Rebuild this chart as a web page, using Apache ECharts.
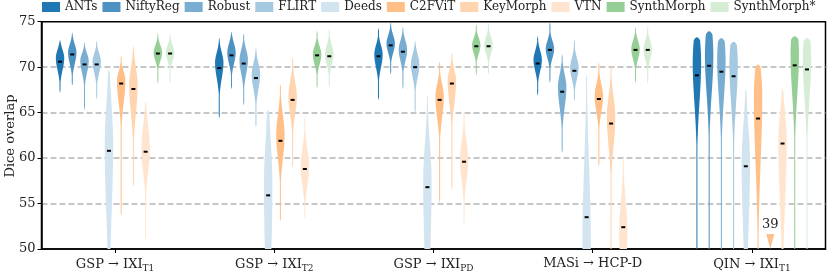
<!DOCTYPE html>
<html><head><meta charset="utf-8">
<script src="https://cdn.jsdelivr.net/npm/echarts@6/dist/echarts.min.js"></script>
<style>html,body{margin:0;padding:0;background:#fff}#c{width:830px;height:273px}</style>
</head><body><div id="c"></div>
<script>
// ---------- data ----------
const methods = ['ANTs','NiftyReg','Robust','FLIRT','Deeds','C2FViT','KeyMorph','VTN','SynthMorph','SynthMorph*'];
const groupMain = ['GSP → IXI','GSP → IXI','GSP → IXI','MASi → HCP-D','QIN → IXI'];
const groupSub  = ['T1','T2','PD','','T1'];
const yTicks = [50,55,60,65,70,75];

// rows: groups, columns: methods
const medians = [
  [70.6, 71.4, 70.3, 70.3, 60.8, 68.2, 67.6, 60.7, 71.5, 71.5],
  [69.9, 71.3, 70.4, 68.8, 55.9, 61.9, 66.4, 58.8, 71.3, 71.2],
  [71.2, 72.4, 71.7, 70.0, 56.8, 66.4, 68.2, 59.6, 72.3, 72.3],
  [70.4, 71.9, 67.3, 69.6, 53.5, 66.5, 63.8, 52.4, 71.9, 71.9],
  [69.1, 70.15, 69.5, 69.0, 59.1, 64.35, 39, 61.6, 70.2, 69.75]
];
const modes = [
  [71.0, 71.6, 70.7, 70.6, 61.5, 68.5, 68.0, 61.0, 71.6, 71.6],
  [70.5, 71.6, 70.8, 69.2, 57.0, 62.5, 66.8, 59.0, 71.4, 71.4],
  [71.4, 72.6, 71.9, 70.3, 57.5, 66.8, 68.5, 59.8, 72.4, 72.4],
  [70.8, 72.0, 67.8, 69.9, 51.0, 66.8, 64.5, 52.0, 72.0, 72.0],
  [70.5, 71.3, 70.8, 70.3, 59.5, 67.0, 39.0, 62.0, 71.5, 71.0]
];
const lows = [
  [67.2, 68.0, 65.3, 66.5, 40, 53.7, 56.9, 51.1, 68.2, 68.2],
  [64.4, 67.6, 65.8, 63.4, 40, 53.1, 59.0, 53.3, 67.7, 67.7],
  [66.4, 69.2, 67.6, 65.0, 40, 55.1, 56.5, 52.75, 69.1, 69.2],
  [66.9, 68.3, 60.6, 66.3, 40, 59.1, 42, 40, 68.3, 68.2],
  [30, 30, 30, 30, 30, 30, 30, 30, 30, 30]
];
const highs = [
  [73.0, 73.8, 72.7, 72.9, 69.7, 71.25, 72.3, 66.3, 73.7, 73.7],
  [73.2, 73.9, 73.7, 72.1, 65.3, 68.1, 71.1, 64.6, 74.0, 74.2],
  [74.3, 74.9, 74.4, 72.9, 66.9, 70.6, 71.6, 65.3, 74.7, 74.8],
  [73.4, 74.9, 71.4, 73.0, 69.2, 70.5, 70.2, 59.9, 74.4, 74.5],
  [73.3, 73.95, 73.2, 72.8, 67.6, 70.3, 47, 67.7, 73.4, 73.2]
];
const sigUp = [
  [0.9, 0.9, 0.8, 0.9, 4.5, 1.0, 1.9, 2.5, 0.8, 0.8],
  [1.1, 1.0, 1.1, 1.2, 5.0, 2.2, 1.6, 2.0, 0.9, 1.0],
  [1.0, 0.9, 1.0, 1.1, 4.0, 1.3, 1.2, 2.0, 0.8, 0.9],
  [1.0, 0.9, 1.4, 1.1, 8.0, 1.3, 2.2, 3.1, 0.9, 0.9],
  [3.3, 3.3, 3.0, 3.0, 4.0, 3.0, 3.0, 3.0, 3.0, 3.0]
];
const sigDown = [
  [1.3, 1.2, 1.3, 1.2, 8.0, 2.4, 3.0, 2.5, 0.9, 0.9],
  [1.7, 1.2, 1.5, 1.6, 10, 2.5, 2.0, 2.0, 1.1, 1.1],
  [1.4, 1.0, 1.2, 1.4, 9, 2.3, 2.4, 2.2, 0.9, 0.9],
  [1.2, 1.0, 2.2, 1.2, 10, 1.7, 3.1, 4.0, 1.1, 1.1],
  [4.4, 4.2, 4.2, 4.2, 8.0, 7.5, 4.0, 7.0, 4.5, 4.3]
];

// ---------- style ----------
const colors = ['#1f77b4','#4c92c3','#79add2','#a5c9e1','#d2e4f0','#ffbf86','#ffd4ae','#ffe5cf','#95cf95','#d5ecd5'];
const FONT = 'DejaVu Serif';
const Y_MIN = 50, Y_MAX = 75;
const SLOT = 0.0768;
const HALF_W = 4.2;
const CAP = 0.35;

function renderViolin(params, api) {
  const m = params.seriesIndex;
  const g = api.value(0);
  const x = g + (m - 4.5) * SLOT;
  const lo = lows[g][m], hi = highs[g][m], md = modes[g][m], med = medians[g][m];
  const sU = sigUp[g][m], sD = sigDown[g][m];
  const children = [];
  const v0 = Math.max(lo, Y_MIN), v1 = Math.min(hi, Y_MAX);
  if (v1 > v0) {
    const left = [], right = [];
    const n = Math.max(2, Math.ceil((v1 - v0) / 0.04));
    for (let i = 0; i <= n; i++) {
      const v = v0 + (v1 - v0) * i / n;
      const s = v > md ? sU : sD;
      const gz = Math.exp(-0.5 * Math.pow((v - md) / s, 2));
      let hw = HALF_W * Math.max(gz, 0.12);
      const dEnd = Math.min(hi - v, lo >= Y_MIN ? v - lo : 99);
      if (dEnd < CAP) hw *= Math.sqrt(Math.max(dEnd, 0) / CAP);
      const p = api.coord([x, v]);
      left.push([p[0] - hw, p[1]]);
      right.push([p[0] + hw, p[1]]);
    }
    children.push({
      type: 'polygon',
      shape: { points: left.concat(right.reverse()) },
      style: { fill: colors[m], stroke: null }
    });
  }
  if (med >= Y_MIN) {
    const c = api.coord([x, med]);
    children.push({ type: 'rect', shape: { x: c[0] - 2, y: c[1] - 1, width: 4, height: 2 }, style: { fill: '#000' } });
  } else {
    const b = api.coord([x, Y_MIN]);
    children.push({
      type: 'polygon',
      shape: { points: [[b[0] - 4, b[1] - 15], [b[0] + 4, b[1] - 15], [b[0], b[1]]] },
      style: { fill: '#fdbf8c' }
    });
    children.push({
      type: 'text',
      style: { text: String(med), x: b[0], y: b[1] - 18, align: 'center', verticalAlign: 'bottom',
               font: '13px "' + FONT + '"', fill: '#222' }
    });
  }
  return { type: 'group', children };
}

const series = methods.map((name, m) => ({
  name,
  type: 'custom',
  renderItem: renderViolin,
  itemStyle: { color: colors[m] },
  data: medians.map((row, g) => [g, row[m]]),
  encode: { x: 0, y: 1 },
  silent: true,
  animation: false
}));

const chart = echarts.init(document.getElementById('c'), null, { renderer: 'canvas' });
chart.setOption({
  animation: false,
  textStyle: { fontFamily: FONT },
  legend: {
    data: methods,
    top: 1, left: 42, padding: 0,
    icon: 'rect', itemWidth: 18, itemHeight: 10, itemGap: 5,
    textStyle: { fontFamily: FONT, fontSize: 12, color: '#222' }
  },
  grid: { left: 41.5, right: 4.5, top: 21.7, bottom: 23, show: true, borderColor: '#000', borderWidth: 1.5, containLabel: false },
  graphic: [{
    type: 'text', x: 11, y: 136, rotation: Math.PI / 2, silent: true,
    style: { text: 'Dice overlap', align: 'center', verticalAlign: 'middle', font: '13px "' + FONT + '"', fill: '#222' }
  }],
  xAxis: {
    type: 'value', min: -0.462, max: 4.462,
    axisLine: { show: true, onZero: false, lineStyle: { color: '#000', width: 1.5 } },
    axisTick: { show: true, customValues: [0,1,2,3,4], length: 4, lineStyle: { color: '#000', width: 1 } },
    splitLine: { show: false },
    axisLabel: {
      customValues: [0,1,2,3,4], margin: 8,
      formatter: v => { const i = Math.round(v); return groupSub[i] ? groupMain[i] + '{sub|' + groupSub[i] + '}' : groupMain[i]; },
      fontFamily: FONT, fontSize: 13, color: '#222',
      rich: { sub: { fontFamily: FONT, fontSize: 9, color: '#222', padding: [7, 0, 0, 0] } }
    }
  },
  yAxis: {
    type: 'value', min: Y_MIN, max: Y_MAX, interval: 5,
    axisLine: { show: true, onZero: false, lineStyle: { color: '#000', width: 1.5 } },
    axisTick: { show: true, length: 4, lineStyle: { color: '#000' } },
    axisLabel: { fontFamily: FONT, fontSize: 13, color: '#222', margin: 6 },
    splitLine: { show: true, showMinLine: false, showMaxLine: false, lineStyle: { color: '#b4b4b4', type: [6, 3], width: 1.5 } }
  },
  series
});
</script></body></html>
